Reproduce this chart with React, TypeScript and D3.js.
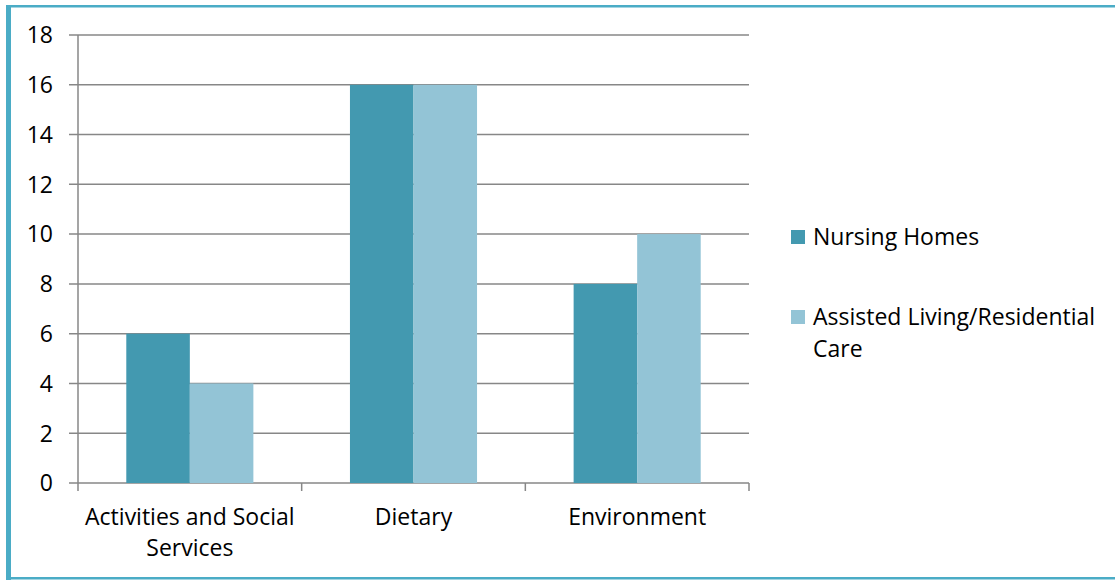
import * as d3 from 'd3';

const categories = ['Activities and Social Services', 'Dietary', 'Environment'];
const categoryLines = [['Activities and Social', 'Services'], ['Dietary'], ['Environment']];
const seriesNames = ['Nursing Homes', 'Assisted Living/Residential Care'];
const legendLines = [['Nursing Homes'], ['Assisted Living/Residential', 'Care']];
const nursingHomes = [6, 16, 8];
const assistedLiving = [4, 16, 10];
const yTicks = [0, 2, 4, 6, 8, 10, 12, 14, 16, 18];

const colors = ['#4399B0', '#93C4D6'];
const border = '#4BACC6';
const gridColor = '#878787';
const font = '"Open Sans", Calibri, sans-serif';
const fontSize = 23;

export default function App() {
  const width = 1115;
  const height = 580;
  const left = 78;
  const right = 749;
  const top = 35;
  const bottom = 483;

  const x0 = d3.scaleBand<string>().domain(categories).range([left, right]).padding(0);
  const x1 = d3
    .scaleBand<string>()
    .domain(seriesNames)
    .range([0, x0.bandwidth()])
    .paddingInner(0)
    .paddingOuter(0.76);
  const y = d3.scaleLinear().domain([0, 18]).range([bottom, top]);

  const values = [nursingHomes, assistedLiving];

  return (
    <svg
      width={width}
      height={height}
      style={{ position: 'absolute', left: 0, top: 0, background: '#fff' }}
      fontFamily={font}
    >
      {/* outer frame */}
      <rect x={6} y={5} width={width - 6} height={2.5} fill={border} />
      <rect x={6} y={5} width={5} height={575} fill={border} />
      <rect x={6} y={577} width={width - 6} height={2.5} fill={border} />

      {/* gridlines + y labels */}
      {yTicks.map((t) => (
        <g key={t}>
          <line x1={left - 9} x2={right} y1={y(t)} y2={y(t)} stroke={gridColor} strokeWidth={1.5} />
          <text x={53} y={y(t)} dy="0.36em" textAnchor="end" fontSize={fontSize} fill="#000">
            {t}
          </text>
        </g>
      ))}

      {/* y axis */}
      <line x1={left} x2={left} y1={top} y2={bottom} stroke={gridColor} strokeWidth={1.5} />

      {/* bars */}
      {categories.map((c, i) => (
        <g key={c} transform={`translate(${x0(c)},0)`}>
          {seriesNames.map((s, j) => (
            <rect
              key={s}
              x={x1(s)}
              y={y(values[j][i])}
              width={x1.bandwidth()}
              height={bottom - y(values[j][i])}
              fill={colors[j]}
            />
          ))}
        </g>
      ))}

      {/* x axis ticks */}
      {categories.map((c) => (
        <line
          key={c}
          x1={(x0(c) ?? 0) + x0.bandwidth()}
          x2={(x0(c) ?? 0) + x0.bandwidth()}
          y1={bottom}
          y2={bottom + 8}
          stroke={gridColor}
          strokeWidth={1.5}
        />
      ))}
      <line x1={left} x2={left} y1={bottom} y2={bottom + 8} stroke={gridColor} strokeWidth={1.5} />

      {/* category labels */}
      {categories.map((c, i) => (
        <text
          key={c}
          x={(x0(c) ?? 0) + x0.bandwidth() / 2}
          y={525}
          textAnchor="middle"
          fontSize={fontSize}
          fill="#000"
        >
          {categoryLines[i].map((line, k) => (
            <tspan key={k} x={(x0(c) ?? 0) + x0.bandwidth() / 2} dy={k === 0 ? 0 : 31}>
              {line}
            </tspan>
          ))}
        </text>
      ))}

      {/* legend */}
      {seriesNames.map((s, j) => {
        const ly = 245 + j * 80;
        return (
          <g key={s}>
            <rect x={791} y={ly - 15} width={14} height={14} fill={colors[j]} />
            <text x={813} y={ly} fontSize={fontSize} fill="#000">
              {legendLines[j].map((line, k) => (
                <tspan key={k} x={813} dy={k === 0 ? 0 : 32}>
                  {line}
                </tspan>
              ))}
            </text>
          </g>
        );
      })}
    </svg>
  );
}
